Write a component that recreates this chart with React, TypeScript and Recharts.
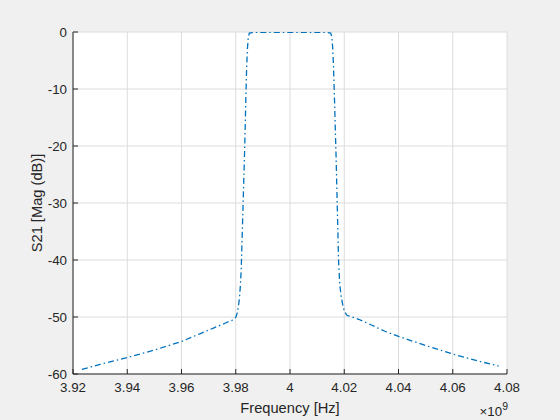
import { LineChart, Line, XAxis, YAxis, CartesianGrid, Label } from "recharts"

// frequency in Hz and S21 magnitude in dB
const freqGHz = [
  3.9233, 3.93, 3.94, 3.95, 3.96, 3.967, 3.972, 3.976, 3.979, 3.9801, 3.9806, 3.981, 3.9814, 3.9817,
  3.982, 3.9823, 3.9826, 3.9829, 3.9832, 3.9835, 3.9837, 3.984, 3.9843, 3.9846, 3.985, 3.987, 3.995,
  4.0, 4.005, 4.013, 4.015, 4.0154, 4.0157, 4.016, 4.0164, 4.0167, 4.017, 4.0173, 4.0176, 4.0179,
  4.0183, 4.0188, 4.0195, 4.0201, 4.021, 4.0253, 4.03, 4.035, 4.04, 4.05, 4.06, 4.07, 4.0769,
]
const s21 = [
  -59.2, -58.3, -57.1, -55.8, -54.3, -52.9, -51.9, -51.1, -50.5, -50.0, -49.2, -48.0, -46.6, -44.5,
  -41.8, -37, -32, -27, -22, -16.5, -12, -6.5, -3, -1, -0.2, -0.05, -0.05,
  -0.05, -0.05, -0.05, -0.2, -0.8, -2.5, -5.5, -11.7, -17, -22, -28, -34, -40,
  -44, -46.2, -48.0, -49.1, -49.7, -50.4, -51.4, -52.5, -53.4, -55.0, -56.5, -57.8, -58.6,
]

const xTicks = [3.92e9, 3.94e9, 3.96e9, 3.98e9, 4.0e9, 4.02e9, 4.04e9, 4.06e9, 4.08e9]
const yTicks = [-60, -50, -40, -30, -20, -10, 0]

const data = freqGHz.map((f, i) => ({ freq: f * 1e9, s21: s21[i] }))

const FONT = "'Liberation Sans', Arial, Helvetica, sans-serif"
const INK = "#262626"
const fmtX = (v: number) => String(Math.round(v / 1e7) / 100)
const blank = () => ""

function XTitle(props: any) {
  const { x, y, width } = props.viewBox
  return (
    <text x={x + width / 2} y={y + 39} textAnchor="middle" fill={INK} fontSize={14.67} fontFamily={FONT}>
      Frequency [Hz]
    </text>
  )
}

function XExponent(props: any) {
  const { x, y, width } = props.viewBox
  return (
    <text x={x + width + 1} y={y + 42} textAnchor="end" fill={INK} fontSize={13.33} fontFamily={FONT}>
      ×10
      <tspan dy={-6} fontSize={10.5}>9</tspan>
    </text>
  )
}

function YTitle(props: any) {
  const { y, height } = props.viewBox
  const cx = 41.5
  const cy = y + height / 2
  return (
    <text
      x={cx}
      y={cy}
      textAnchor="middle"
      transform={`rotate(-90 ${cx} ${cy})`}
      fill={INK}
      fontSize={14.67}
      fontFamily={FONT}
    >
      S21 [Mag (dB)]
    </text>
  )
}

export default function App() {
  const tickStyle = { fill: INK, fontSize: 13.33, fontFamily: FONT }
  return (
    <div style={{ position: "absolute", left: 0, top: 0, width: 560, height: 420, background: "#f0f0f0" }}>
      <LineChart width={560} height={420} data={data} margin={{ top: 32, right: 53, bottom: 0, left: 0 }}>
        <CartesianGrid stroke="#dcdcdc" fill="#ffffff" verticalValues={xTicks} horizontalValues={yTicks} />
        <XAxis
          dataKey="freq"
          type="number"
          domain={[3.92e9, 4.08e9]}
          ticks={xTicks}
          allowDataOverflow
          height={46}
          tickFormatter={fmtX}
          tick={tickStyle}
          tickSize={-5}
          tickMargin={14}
          stroke={INK}
          interval={0}
        >
          <Label content={XTitle} />
          <Label content={XExponent} />
        </XAxis>
        <XAxis
          xAxisId="top"
          orientation="top"
          dataKey="freq"
          type="number"
          domain={[3.92e9, 4.08e9]}
          ticks={xTicks}
          allowDataOverflow
          height={0}
          tickFormatter={blank}
          tickSize={-5}
          stroke={INK}
          interval={0}
        />
        <YAxis
          type="number"
          domain={[-60, 0]}
          ticks={yTicks}
          allowDataOverflow
          width={73}
          tick={tickStyle}
          tickSize={-5}
          tickMargin={11}
          stroke={INK}
          interval={0}
        >
          <Label content={YTitle} />
        </YAxis>
        <YAxis
          yAxisId="right"
          orientation="right"
          type="number"
          domain={[-60, 0]}
          ticks={yTicks}
          allowDataOverflow
          width={0}
          tickFormatter={blank}
          tickSize={-5}
          stroke={INK}
          interval={0}
        />
        <Line
          dataKey="s21"
          type="linear"
          stroke="#0072bd"
          strokeWidth={1.3}
          strokeDasharray="6 3 1.5 3"
          dot={false}
          activeDot={false}
          isAnimationActive={false}
        />
      </LineChart>
    </div>
  )
}
